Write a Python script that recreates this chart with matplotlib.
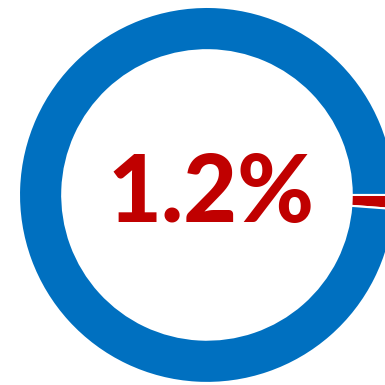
import matplotlib.pyplot as plt

labels = ['Share', 'Rest']
values = [1.2, 98.8]
colors = ['#C00000', '#0070C0']
center_text = '1.2%'

fig = plt.figure(figsize=(3.85, 3.85), dpi=100)
ax = fig.add_axes([0, 0, 1, 1])
ax.pie(values, colors=colors, startangle=0, counterclock=False, radius=1,
       wedgeprops=dict(width=0.23, edgecolor='white', linewidth=1.5))
ax.text(0.02, -0.144, center_text, ha='center', va='baseline',
        fontsize=67, fontweight='black', family='Lato', color='#C00000')
ax.set_xlim(-1.101, 0.947)
ax.set_ylim(-1.011, 1.037)
ax.set_aspect('equal')
ax.axis('off')
fig.savefig('out.png', dpi=100)
